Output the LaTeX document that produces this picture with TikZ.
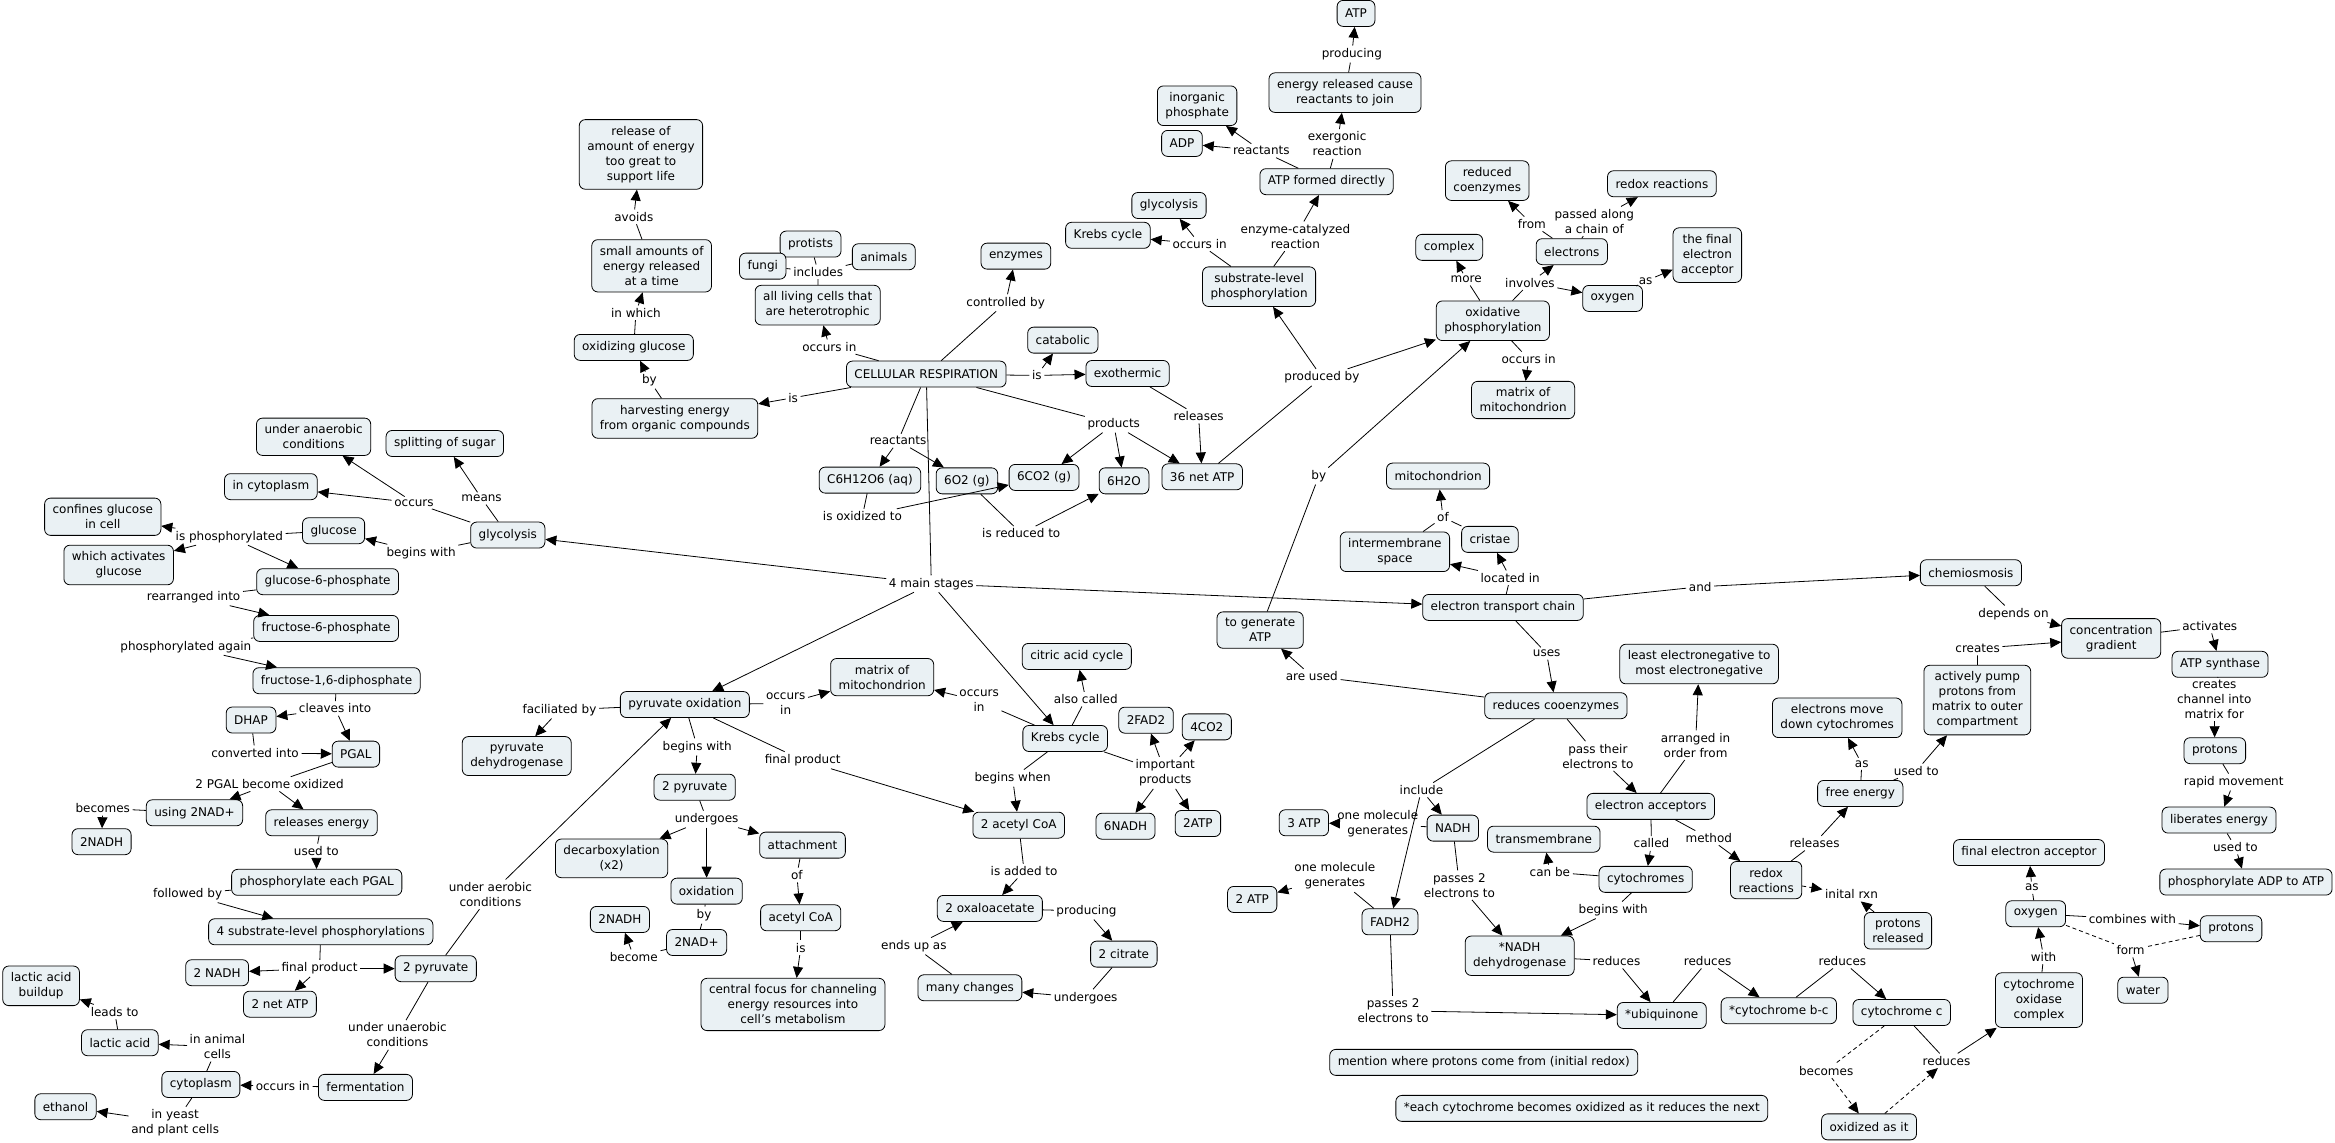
\documentclass[tikz,border=0pt]{standalone}
\usepackage{fontspec}
\setmainfont{DejaVu Sans}
\usepackage{tikz}
\usetikzlibrary{arrows.meta}
\usepackage{xcolor}
\definecolor{conceptfill}{HTML}{EAF1F4}

\begin{document}
\begin{tikzpicture}[x=1.489pt, y=-1.489pt,
  concept/.style={draw, line width=0.8pt, fill=conceptfill, rounded corners=6pt, align=center,
    inner xsep=8pt, inner ysep=6.5pt, minimum height=26pt, font=\fontsize{12}{15}\selectfont},
  phrase/.style={align=center, inner sep=2.5pt, font=\fontsize{12}{15}\selectfont},
  link/.style={line width=0.8pt},
  arrow/.style={link, -{Triangle[length=11pt,width=10pt]}},
  dlink/.style={link, dash pattern=on 4pt off 3pt}]
  \useasboundingbox (0,0) rectangle (1568,767);

  % concepts
  \node[concept] (atp) at (910.6,9) {ATP};
  \node[concept] (erc) at (903.2,62.2) {energy released cause\\reactants to join};
  \node[concept] (inph) at (803.9,71) {inorganic\\phosphate};
  \node[concept] (adp) at (793.7,96.3) {ADP};
  \node[concept] (atpfd) at (890.8,122) {ATP formed directly};
  \node[concept] (glytop) at (785,138) {glycolysis};
  \node[concept] (krtop) at (744,158) {Krebs cycle};
  \node[concept] (slp) at (845.5,192.5) {substrate-level\\phosphorylation};
  \node[concept] (redcoenz) at (998.7,121.3) {reduced\\coenzymes};
  \node[concept] (redoxtop) at (1116,123.4) {redox reactions};
  \node[concept] (complex) at (973.2,166.1) {complex};
  \node[concept] (electrons) at (1055.5,169) {electrons};
  \node[concept] (finalacc) at (1146.5,171.3) {the final\\electron\\acceptor};
  \node[concept] (oxytop) at (1082.9,200.4) {oxygen};
  \node[concept] (oxphos) at (1002.5,215.4) {oxidative\\phosphorylation};
  \node[concept] (matrixtop) at (1022.8,268.6) {matrix of\\mitochondrion};
  \node[concept] (release) at (430.4,103.7) {release of\\amount of energy\\too great to\\support life};
  \node[concept] (small) at (437.6,178.5) {small amounts of\\energy released\\at a time};
  \node[concept] (oxgluc) at (425.6,233.3) {oxidizing glucose};
  \node[concept] (harvest) at (453.2,281) {harvesting energy\\from organic compounds};
  \node[concept] (protists) at (544.3,163.9) {protists};
  \node[concept] (fungi) at (512.2,178.7) {fungi};
  \node[concept] (animals) at (593.5,172.4) {animals};
  \node[concept] (living) at (549.1,204.9) {all living cells that\\are heterotrophic};
  \node[concept] (enzymes) at (682.2,172) {enzymes};
  \node[concept] (catabolic) at (713.7,228.4) {catabolic};
  \node[concept] (cr) at (622,251.2) {CELLULAR RESPIRATION};
  \node[concept] (exo) at (757.2,250.8) {exothermic};
  \node[concept] (gluc6) at (584.2,322.4) {C6H12O6 (aq)};
  \node[concept] (otwo) at (649.3,322.9) {6O2 (g)};
  \node[concept] (cotwo) at (701.1,320.6) {6CO2 (g)};
  \node[concept] (water6) at (754.8,322.9) {6H2O};
  \node[concept] (netatp) at (807.3,320.2) {36 net ATP};
  \node[concept] (anaer) at (210.6,293.3) {under anaerobic\\conditions};
  \node[concept] (split) at (298.7,297.8) {splitting of sugar};
  \node[concept] (incyto) at (181.9,326.8) {in cytoplasm};
  \node[concept] (confines) at (69,347) {confines glucose\\in cell};
  \node[concept] (glucose) at (224,356.4) {glucose};
  \node[concept] (glyco) at (341,359.3) {glycolysis};
  \node[concept] (activates) at (79.7,379.4) {which activates\\glucose};
  \node[concept] (g6p) at (220,390.6) {glucose-6-phosphate};
  \node[concept] (f6p) at (219,422) {fructose-6-phosphate};
  \node[concept] (f16) at (226,457.1) {fructose-1,6-diphosphate};
  \node[concept] (dhap) at (168.6,483.5) {DHAP};
  \node[concept] (pgal) at (239,506.4) {PGAL};
  \node[concept] (using) at (130.6,545.8) {using 2NAD+};
  \node[concept] (relen) at (215.9,552.5) {releases energy};
  \node[concept] (nadhA) at (68.2,565.2) {2NADH};
  \node[concept] (phpgal) at (212.7,592.5) {phosphorylate each PGAL};
  \node[concept] (fourslp) at (215.4,625.7) {4 substrate-level phosphorylations};
  \node[concept] (nadhB) at (145.8,653.2) {2 NADH};
  \node[concept] (pyrA) at (292.6,650.5) {2 pyruvate};
  \node[concept] (netatpB) at (188,674.3) {2 net ATP};
  \node[concept] (buildup) at (27.6,662) {lactic acid\\buildup};
  \node[concept] (lactic) at (80.5,700.2) {lactic acid};
  \node[concept] (cyto) at (134.9,728.2) {cytoplasm};
  \node[concept] (ferm) at (245.4,730.2) {fermentation};
  \node[concept] (ethanol) at (44,743.2) {ethanol};
  \node[concept] (pyrox) at (459.9,473.1) {pyruvate oxidation};
  \node[concept] (pdh) at (347,507.7) {pyruvate\\dehydrogenase};
  \node[concept] (matrixmid) at (592.4,454.7) {matrix of\\mitochondrion};
  \node[concept] (citric) at (723.1,440.8) {citric acid cycle};
  \node[concept] (krebs) at (715.3,495.9) {Krebs cycle};
  \node[concept] (fad) at (769.6,483.6) {2FAD2};
  \node[concept] (cofour) at (810.4,488.1) {4CO2};
  \node[concept] (pyrB) at (466.5,528.6) {2 pyruvate};
  \node[concept] (acoaB) at (684.1,554.1) {2 acetyl CoA};
  \node[concept] (nadhsix) at (755.8,554.8) {6NADH};
  \node[concept] (atptwo) at (804.4,553) {2ATP};
  \node[concept] (decarb) at (410.7,576.4) {decarboxylation\\(x2)};
  \node[concept] (attach) at (538.9,567.5) {attachment};
  \node[concept] (oxidation) at (474.5,598.4) {oxidation};
  \node[concept] (nadhC) at (416.3,617.4) {2NADH};
  \node[concept] (acoa) at (537.7,616.3) {acetyl CoA};
  \node[concept] (nadplus) at (467.8,632.9) {2NAD+};
  \node[concept] (central) at (532.5,674.5) {central focus for channeling\\energy resources into\\cell's metabolism};
  \node[concept] (oxalo) at (664.7,610) {2 oxaloacetate};
  \node[concept] (citrate) at (754.7,640.7) {2 citrate};
  \node[concept] (changes) at (651.3,663.3) {many changes};
  \node[concept] (mito) at (965.7,319.7) {mitochondrion};
  \node[concept] (intermem) at (936.7,370.5) {intermembrane\\space};
  \node[concept] (cristae) at (1000.5,362.2) {cristae};
  \node[concept] (etc) at (1009.3,407.9) {electron transport chain};
  \node[concept] (togen) at (846.2,423.1) {to generate\\ATP};
  \node[concept] (redco) at (1044.8,473.9) {reduces cooenzymes};
  \node[concept] (leastneg) at (1141,445.9) {least electronegative to\\most electronegative};
  \node[concept] (chemi) at (1323.5,384.6) {chemiosmosis};
  \node[concept] (gradient) at (1417.7,428.7) {concentration\\gradient};
  \node[concept] (synthase) at (1490.8,446.1) {ATP synthase};
  \node[concept] (pump) at (1327.8,470.1) {actively pump\\protons from\\matrix to outer\\compartment};
  \node[concept] (emove) at (1233.7,482) {electrons move\\down cytochromes};
  \node[concept] (protonsA) at (1487.3,504.1) {protons};
  \node[concept] (freeen) at (1249.2,532.8) {free energy};
  \node[concept] (liberates) at (1490.1,550.7) {liberates energy};
  \node[concept] (phadp) at (1508.2,592.3) {phosphorylate ADP to ATP};
  \node[concept] (eacc) at (1108.5,541.5) {electron acceptors};
  \node[concept] (threeatp) at (875.6,552.5) {3 ATP};
  \node[concept] (nadh) at (975.6,556.1) {NADH};
  \node[concept] (transm) at (1036.7,563.5) {transmembrane};
  \node[concept] (cytos) at (1105.1,590.5) {cytochromes};
  \node[concept] (redox) at (1186,591) {redox\\reactions};
  \node[concept] (twoatp) at (840.9,604) {2 ATP};
  \node[concept] (fadh) at (933.4,619) {FADH2};
  \node[concept] (nadhdh) at (1020.5,641.8) {*NADH\\dehydrogenase};
  \node[concept] (protrel) at (1274.5,625) {protons\\released};
  \node[concept] (finalacc2) at (1362.5,572.5) {final electron acceptor};
  \node[concept] (oxy) at (1367,613.6) {oxygen};
  \node[concept] (protonsB) at (1498.2,623.7) {protons};
  \node[concept] (cytox) at (1369.2,671.6) {cytochrome\\oxidase\\complex};
  \node[concept] (waterB) at (1439,664.9) {water};
  \node[concept] (ubiq) at (1115.9,681.9) {*ubiquinone};
  \node[concept] (cytbc) at (1194.5,678.7) {*cytochrome b-c};
  \node[concept] (cytc) at (1277,679.9) {cytochrome c};
  \node[concept] (oxas) at (1255.1,756.7) {oxidized as it};
  \node[concept] (mention) at (996.4,713.4) {mention where protons come from (initial redox)};
  \node[concept] (eachcyt) at (1062.2,744.3) {*each cytochrome becomes oxidized as it reduces the next};

  % linking phrases
  \node[phrase] (lproduce) at (907.8,36.3) {producing};
  \node[phrase] (lexerg) at (897.9,96.7) {exergonic\\reaction};
  \node[phrase] (lreact) at (847,101.2) {reactants};
  \node[phrase] (lenzcat) at (869.9,158.7) {enzyme-catalyzed\\reaction};
  \node[phrase] (loccA) at (805.6,163.8) {occurs in};
  \node[phrase] (lprodby) at (887.7,253.4) {produced by};
  \node[phrase] (lmore) at (984.6,187.6) {more};
  \node[phrase] (linvolves) at (1027.4,189.8) {involves};
  \node[phrase] (lfrom) at (1028.7,150.4) {from};
  \node[phrase] (lpassed) at (1070.6,148.6) {passed along\\a chain of};
  \node[phrase] (lasA) at (1105.1,188.7) {as};
  \node[phrase] (loccB) at (1026.5,241.1) {occurs in};
  \node[phrase] (lbyA) at (885.6,319.7) {by};
  \node[phrase] (lavoids) at (425.6,145.6) {avoids};
  \node[phrase] (linwhich) at (427,210) {in which};
  \node[phrase] (lbyB) at (436.1,255.3) {by};
  \node[phrase] (lisA) at (532.6,267.1) {is};
  \node[phrase] (lincludes) at (549.4,182.5) {includes};
  \node[phrase] (loccC) at (556.9,232.9) {occurs in};
  \node[phrase] (lcontrolled) at (675.3,203.3) {controlled by};
  \node[phrase] (lisB) at (696.3,252.1) {is};
  \node[phrase] (lreleasesA) at (804.9,279.4) {releases};
  \node[phrase] (lproducts) at (747.9,284.8) {products};
  \node[phrase] (lreactants) at (603.1,296) {reactants};
  \node[phrase] (loxto) at (579.1,346.6) {is oxidized to};
  \node[phrase] (lredto) at (685.8,358.2) {is reduced to};
  \node[phrase] (lstages) at (625.4,392) {4 main stages};
  \node[phrase] (loccurs) at (278,337.6) {occurs};
  \node[phrase] (lmeans) at (323.4,334.7) {means};
  \node[phrase] (lbeginsA) at (282.8,371.2) {begins with};
  \node[phrase] (lphos) at (154,360.4) {is phosphorylated};
  \node[phrase] (lrearr) at (130,401) {rearranged into};
  \node[phrase] (lphosagain) at (124.8,434.3) {phosphorylated again};
  \node[phrase] (lcleaves) at (225,475.7) {cleaves into};
  \node[phrase] (lconv) at (171.3,505.5) {converted into};
  \node[phrase] (lpgalox) at (181,526.5) {2 PGAL become oxidized};
  \node[phrase] (lbecomesA) at (69,542.8) {becomes};
  \node[phrase] (lusedA) at (212.4,571.5) {used to};
  \node[phrase] (lfollowed) at (126,600.4) {followed by};
  \node[phrase] (lfinalA) at (214.6,650.3) {final product};
  \node[phrase] (laerobic) at (329.3,600.6) {under aerobic\\conditions};
  \node[phrase] (lunaerobic) at (266.9,695) {under unaerobic\\conditions};
  \node[phrase] (loccD) at (189.9,729.3) {occurs in};
  \node[phrase] (lanimal) at (146,702.9) {in animal\\cells};
  \node[phrase] (lyeast) at (117.6,754) {in yeast\\and plant cells};
  \node[phrase] (lleads) at (77,679.4) {leads to};
  \node[phrase] (lfacil) at (375.7,476.8) {faciliated by};
  \node[phrase] (loccE) at (527.6,472.4) {occurs\\in};
  \node[phrase] (loccF) at (657.5,470.8) {occurs\\in};
  \node[phrase] (lalso) at (729.1,469.5) {also called};
  \node[phrase] (limport) at (782.5,519) {important\\products};
  \node[phrase] (lbeginswhen) at (680,522.5) {begins when};
  \node[phrase] (lbeginsB) at (468.2,501.5) {begins with};
  \node[phrase] (lfinalB) at (539,510.5) {final product};
  \node[phrase] (lundergoesA) at (474.5,550.1) {undergoes};
  \node[phrase] (lbyC) at (472.8,614.5) {by};
  \node[phrase] (lbecome) at (425.6,642.5) {become};
  \node[phrase] (lof) at (535.1,587.6) {of};
  \node[phrase] (lisC) at (537.7,636.4) {is};
  \node[phrase] (ladded) at (687.7,585) {is added to};
  \node[phrase] (lproducing) at (729.6,611.8) {producing};
  \node[phrase] (lundergoesB) at (729,670) {undergoes};
  \node[phrase] (lendsup) at (613.7,635.3) {ends up as};
  \node[phrase] (lofB) at (969,347.4) {of};
  \node[phrase] (llocated) at (1014.1,388) {located in};
  \node[phrase] (land) at (1141.7,394) {and};
  \node[phrase] (luses) at (1038.6,438.8) {uses};
  \node[phrase] (lareused) at (880.9,454) {are used};
  \node[phrase] (lpass) at (1073,507.7) {pass their\\electrons to};
  \node[phrase] (linclude) at (954.5,530.5) {include};
  \node[phrase] (larranged) at (1138.6,500.4) {arranged in\\order from};
  \node[phrase] (lgenA) at (925.2,553.4) {one molecule\\generates};
  \node[phrase] (lgenB) at (896.4,588.3) {one molecule\\generates};
  \node[phrase] (lpassesA) at (980,594.4) {passes 2\\electrons to};
  \node[phrase] (lpassesB) at (935.5,678.7) {passes 2\\electrons to};
  \node[phrase] (lcalled) at (1109,566.4) {called};
  \node[phrase] (lmethod) at (1147.5,562.7) {method};
  \node[phrase] (lcanbe) at (1040.8,585.6) {can be};
  \node[phrase] (lbeginsC) at (1083.3,611.1) {begins with};
  \node[phrase] (lredA) at (1085.5,645.4) {reduces};
  \node[phrase] (lredB) at (1146.7,645.4) {reduces};
  \node[phrase] (lredC) at (1237.2,645.4) {reduces};
  \node[phrase] (lredD) at (1307.1,712.3) {reduces};
  \node[phrase] (lbecomesB) at (1226.3,719) {becomes};
  \node[phrase] (lreleasesB) at (1218.5,566.2) {releases};
  \node[phrase] (linital) at (1243.3,600.4) {inital rxn};
  \node[phrase] (lasB) at (1250.2,512.9) {as};
  \node[phrase] (lusedB) at (1286.8,517.7) {used to};
  \node[phrase] (lcreates) at (1328,435.4) {creates};
  \node[phrase] (ldepends) at (1352.1,412.3) {depends on};
  \node[phrase] (lactivates) at (1483.9,420.4) {activates};
  \node[phrase] (lchannel) at (1486.9,469.4) {creates\\channel into\\matrix for};
  \node[phrase] (lrapid) at (1500,525.2) {rapid movement};
  \node[phrase] (lusedC) at (1501.1,568.8) {used to};
  \node[phrase] (lwith) at (1372.3,642.5) {with};
  \node[phrase] (lasC) at (1364.4,596.1) {as};
  \node[phrase] (lcombines) at (1431.9,617.2) {combines with};
  \node[phrase] (lform) at (1430.7,638) {form};

  % concept to phrase
  \foreach \a/\b in {erc/lproduce, atpfd/lexerg, atpfd/lreact, slp/lenzcat, slp/loccA, netatp/lprodby,
      oxphos/lmore, oxphos/linvolves, electrons/lfrom, electrons/lpassed, oxytop/lasA, oxphos/loccB,
      togen/lbyA, small/lavoids, oxgluc/linwhich, harvest/lbyB, cr/lisA, living/lincludes,
      lincludes/protists, lincludes/fungi, lincludes/animals, cr/loccC, cr/lcontrolled, cr/lisB,
      exo/lreleasesA, cr/lproducts, cr/lreactants, gluc6/loxto, otwo/lredto, cr/lstages,
      glyco/loccurs, glyco/lmeans, glyco/lbeginsA, glucose/lphos, g6p/lrearr, f6p/lphosagain,
      f16/lcleaves, dhap/lconv, pgal/lpgalox, using/lbecomesA, relen/lusedA, phpgal/lfollowed,
      fourslp/lfinalA, pyrA/laerobic, pyrA/lunaerobic, ferm/loccD, cyto/lanimal, cyto/lyeast,
      lactic/lleads, pyrox/lfacil, pyrox/loccE, krebs/loccF, krebs/lalso, krebs/limport,
      krebs/lbeginswhen, pyrox/lbeginsB, pyrox/lfinalB, pyrB/lundergoesA, oxidation/lbyC,
      lbyC/nadplus, nadplus/lbecome, attach/lof, acoa/lisC, acoaB/ladded, oxalo/lproducing,
      citrate/lundergoesB, changes/lendsup, intermem/lofB, cristae/lofB, etc/llocated, etc/land,
      etc/luses, redco/lareused, redco/lpass, redco/linclude, nadh/lgenA, fadh/lgenB,
      nadh/lpassesA, fadh/lpassesB, eacc/larranged, eacc/lcalled, eacc/lmethod, cytos/lcanbe,
      cytos/lbeginsC, nadhdh/lredA, ubiq/lredB, cytbc/lredC, cytc/lredD, redox/lreleasesB,
      freeen/lasB, freeen/lusedB, pump/lcreates, chemi/ldepends, gradient/lactivates,
      synthase/lchannel, protonsA/lrapid, liberates/lusedC, cytox/lwith, oxy/lasC, oxy/lcombines}
    \draw[link] (\a) -- (\b);

  % phrase to concept
  \foreach \a/\b in {lproduce/atp, lexerg/erc, lreact/adp, lreact/inph, lenzcat/atpfd, loccA/krtop,
      loccA/glytop, lprodby/slp, lprodby/oxphos, lmore/complex, linvolves/electrons, linvolves/oxytop,
      lfrom/redcoenz, lpassed/redoxtop, lasA/finalacc, loccB/matrixtop, lbyA/oxphos, lavoids/release,
      linwhich/small, lbyB/oxgluc, lisA/harvest, loccC/living, lcontrolled/enzymes, lisB/catabolic,
      lisB/exo, lreleasesA/netatp, lproducts/cotwo, lproducts/water6, lproducts/netatp,
      lreactants/gluc6, lreactants/otwo, loxto/cotwo, lredto/water6, lstages/glyco, lstages/pyrox,
      lstages/krebs, lstages/etc, loccurs/anaer, loccurs/incyto, lmeans/split, lbeginsA/glucose,
      lphos/confines, lphos/activates, lphos/g6p, lrearr/f6p, lphosagain/f16, lcleaves/dhap,
      lcleaves/pgal, lconv/pgal, lpgalox/using, lpgalox/relen, lbecomesA/nadhA, lusedA/phpgal,
      lfollowed/fourslp, lfinalA/nadhB, lfinalA/netatpB, lfinalA/pyrA, laerobic/pyrox,
      lunaerobic/ferm, loccD/cyto, lanimal/lactic, lyeast/ethanol, lleads/buildup, lfacil/pdh,
      loccE/matrixmid, loccF/matrixmid, lalso/citric, limport/fad, limport/cofour, limport/nadhsix,
      limport/atptwo, lbeginswhen/acoaB, lbeginsB/pyrB, lfinalB/acoaB, lundergoesA/decarb,
      lundergoesA/oxidation, lundergoesA/attach, lbecome/nadhC, lof/acoa, lisC/central,
      ladded/oxalo, lproducing/citrate, lundergoesB/changes, lendsup/oxalo, lofB/mito,
      llocated/intermem, llocated/cristae, land/chemi, luses/redco, lareused/togen, lpass/eacc,
      linclude/nadh, linclude/fadh, lgenA/threeatp, lgenB/twoatp, lpassesA/nadhdh, lpassesB/ubiq,
      larranged/leastneg, lcalled/cytos, lmethod/redox, lcanbe/transm, lbeginsC/nadhdh, lredA/ubiq,
      lredB/cytbc, lredC/cytc, lredD/cytox, lreleasesB/freeen, protrel/linital, lasB/emove,
      lusedB/pump, lcreates/gradient, ldepends/gradient, lactivates/synthase, lchannel/protonsA,
      lrapid/liberates, lusedC/phadp, lwith/oxy, lasC/finalacc2, lcombines/protonsB, lform/waterB}
    \draw[arrow] (\a) -- (\b);

  % dashed
  \draw[dlink] (cytc) -- (lbecomesB);
  \draw[dlink] (oxy) -- (lform);
  \draw[dlink] (protonsB) -- (lform);
  \draw[arrow, dlink] (lbecomesB) -- (oxas);
  \draw[arrow, dlink] (oxas) -- (lredD);
  \draw[arrow, dlink] (redox) -- (linital);
\end{tikzpicture}
\end{document}
